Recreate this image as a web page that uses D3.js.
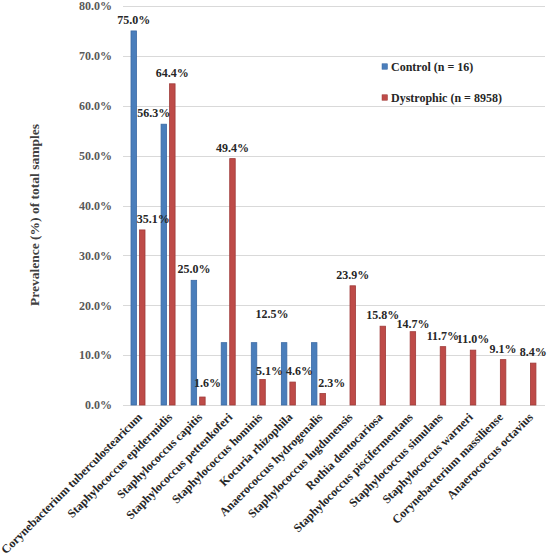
<!DOCTYPE html>
<html>
<head>
<meta charset="utf-8">
<script src="https://cdn.jsdelivr.net/npm/d3@7"></script>
<style>
  body { margin: 0; background: #fff; }
  svg text { font-family: "Liberation Serif", "DejaVu Serif", serif; font-weight: bold; }
</style>
</head>
<body>
<svg id="chart" width="550" height="557"></svg>
<script>
// Prevalence of species: control vs dystrophic samples

const categories = [
  "Corynebacterium tuberculostearicum",
  "Staphylococcus epidermidis",
  "Staphylococcus capitis",
  "Staphylococcus pettenkoferi",
  "Staphylococcus hominis",
  "Kocuria rhizophila",
  "Anaerococcus hydrogenalis",
  "Staphylococcus lugdunensis",
  "Rothia dentocariosa",
  "Staphylococcus piscifermentans",
  "Staphylococcus simulans",
  "Staphylococcus warneri",
  "Corynebacterium massiliense",
  "Anaerococcus octavius"
];

const controlValues    = [75.0, 56.3, 25.0, 12.5, 12.5, 12.5, 12.5, 0, 0, 0, 0, 0, 0, 0];
const dystrophicValues = [35.1, 64.4, 1.6, 49.4, 5.1, 4.6, 2.3, 23.9, 15.8, 14.7, 11.7, 11.0, 9.1, 8.4];

const yTicks = [0, 10, 20, 30, 40, 50, 60, 70, 80];

const seriesNames = ["Control (n = 16)", "Dystrophic (n = 8958)"];

const series = [
  { key: "control",    name: seriesNames[0], values: controlValues,    fill: "#4a7ebb", stroke: "#3b69a3" },
  { key: "dystrophic", name: seriesNames[1], values: dystrophicValues, fill: "#be4b48", stroke: "#9f3b39" }
];

// label tweaks copied from the hand-placed labels in the original
const labelNudge = {
  "control|1":    { dx: -10, dy: 0 },
  "dystrophic|0": { dx: 11, dy: 0 },
  "dystrophic|2": { dx: 5, dy: -3 },
  "control|4":    { dx: 18, dy: -18 },
  "dystrophic|4": { dx: 7, dy: 2 },
  "dystrophic|5": { dx: 7, dy: 0 },
  "dystrophic|6": { dx: 9, dy: 0 },
  "dystrophic|9": { dx: 0, dy: 3 }
};
const hiddenLabels = ["control|3", "control|5", "control|6"];

const svg = d3.select("#chart");
const plot = { left: 123, right: 544, top: 6, bottom: 405 };

const x = d3.scaleBand().domain(categories).range([plot.left, plot.right]).padding(0);
const xSub = d3.scaleBand().domain(series.map(s => s.key)).range([7.5, 22.5]).paddingInner(0.235);
const y = d3.scaleLinear().domain([0, 80]).range([plot.bottom, plot.top]);

// gridlines
svg.append("g")
  .selectAll("line")
  .data(yTicks)
  .join("line")
  .attr("x1", plot.left)
  .attr("x2", plot.right + 1)
  .attr("y1", d => Math.round(y(d)) + 0.5)
  .attr("y2", d => Math.round(y(d)) + 0.5)
  .attr("stroke", "#d9d9d9")
  .attr("stroke-width", 1);

// y axis labels
const yAxis = d3.axisLeft(y).tickValues(yTicks).tickFormat(d => d3.format(".1f")(d) + "%").tickSize(0).tickPadding(11);
const yg = svg.append("g").attr("transform", `translate(${plot.left},0)`).call(yAxis);
yg.select(".domain").remove();
yg.selectAll(".tick text")
  .attr("fill", "#595959")
  .attr("font-size", 12)
  .attr("font-family", "Liberation Serif, serif")
  .attr("font-weight", "bold");

// bars
series.forEach(s => {
  svg.append("g")
    .selectAll("rect")
    .data(s.values.map((v, i) => ({ v, i })).filter(d => d.v > 0))
    .join("rect")
    .attr("x", d => x(categories[d.i]) + xSub(s.key) + 0.5)
    .attr("y", d => y(d.v))
    .attr("width", xSub.bandwidth() - 1)
    .attr("height", d => y(0) - y(d.v))
    .attr("fill", s.fill)
    .attr("stroke", s.stroke)
    .attr("stroke-width", 0.8);
});

// data labels
series.forEach(s => {
  svg.append("g")
    .selectAll("text")
    .data(s.values.map((v, i) => ({ v, i })).filter(d => d.v > 0 && !hiddenLabels.includes(`${s.key}|${d.i}`)))
    .join("text")
    .attr("x", d => {
      const n = labelNudge[`${s.key}|${d.i}`];
      return x(categories[d.i]) + xSub(s.key) + xSub.bandwidth() / 2 + (n ? n.dx : 0);
    })
    .attr("y", d => {
      const n = labelNudge[`${s.key}|${d.i}`];
      return y(d.v) - 11 + (n ? n.dy : 0);
    })
    .attr("text-anchor", "middle")
    .attr("dominant-baseline", "central")
    .attr("font-size", 12)
    .attr("fill", "#262626")
    .text(d => d3.format(".1f")(d.v) + "%");
});

// category labels
svg.append("g")
  .selectAll("text")
  .data(categories)
  .join("text")
  .attr("transform", d => `translate(${x(d) + x.bandwidth() / 2 + 2},${plot.bottom + 10}) rotate(-45)`)
  .attr("text-anchor", "end")
  .attr("dominant-baseline", "central")
  .attr("font-size", 12)
  .attr("fill", "#262626")
  .text(d => d);

// y axis title
svg.append("text")
  .attr("transform", "translate(34,215) rotate(-90)")
  .attr("text-anchor", "middle")
  .attr("dominant-baseline", "central")
  .attr("font-size", 13.5)
  .attr("fill", "#404040")
  .text("Prevalence (%) of total samples");

// legend
const legend = svg.append("g").attr("transform", "translate(382,66.5)");
series.forEach((s, i) => {
  const row = legend.append("g").attr("transform", `translate(0,${i * 31})`);
  row.append("rect")
    .attr("x", 0).attr("y", -2.75)
    .attr("width", 5.5).attr("height", 5.5)
    .attr("fill", s.fill)
    .attr("stroke", s.stroke)
    .attr("stroke-width", 0.5);
  row.append("text")
    .attr("x", 9)
    .attr("y", 0)
    .attr("dominant-baseline", "central")
    .attr("font-size", 12)
    .attr("fill", "#262626")
    .text(s.name);
});
</script>
</body>
</html>
